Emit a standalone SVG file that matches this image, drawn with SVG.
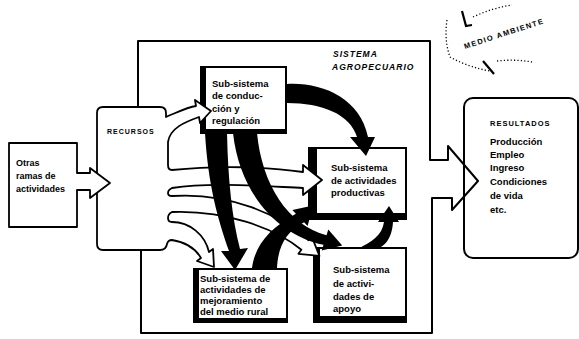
<svg xmlns="http://www.w3.org/2000/svg" width="579" height="339" viewBox="0 0 579 339">
<style>
.ln{fill:none;stroke:#000;stroke-width:2;stroke-linejoin:round}
.wf{fill:#fff;stroke:#000;stroke-width:1.8;stroke-linejoin:round}
.blk{fill:#000;stroke:none}
.t{font-family:"Liberation Sans",Arial,sans-serif;font-weight:bold;font-size:9.5px;fill:#000}
.s{font-size:9px}
.cap{font-size:7.5px;letter-spacing:1px}
.it{font-style:italic;font-size:8.5px;letter-spacing:1px}
.dot{fill:none;stroke:#000;stroke-width:1.3;stroke-dasharray:1.2 2.2}
</style>
<rect width="579" height="339" fill="#fff"/>

<g id="sistema">
<path class="ln" d="M138,107 L138,41 L430,41 L430,160 L448,160 L448,146 L478,181 L452,210 L452,198 L432,198 L432,333 L141,333 L141,250"/>
<text class="t it" x="333" y="57">SISTEMA</text>
<text class="t it" x="332" y="70">AGROPECUARIO</text>
</g>

<g id="medio">
<text class="t cap" x="465" y="49" transform="rotate(-18 465 49)" style="font-size:7.5px;letter-spacing:1.3px">MEDIO AMBIENTE</text>
<path class="dot" d="M447,20 Q444,40 450,57 Q470,68 495,72"/>
<path class="dot" d="M473,17 Q492,8 512,5"/>
<path class="dot" d="M497,61 Q515,59 532,62"/>
<path d="M462,11 L466,26 L472,25" fill="none" stroke="#000" stroke-width="2.2"/>
<path d="M483,61 L494,74" fill="none" stroke="#000" stroke-width="2.2"/>
</g>

<g id="resultados">
<rect class="ln" x="464" y="98" width="114" height="160" rx="9"/>
<text class="t cap" x="490" y="126">RESULTADOS</text>
<text class="t" x="490" y="145">Producción</text>
<text class="t" x="490" y="158">Empleo</text>
<text class="t" x="490" y="171">Ingreso</text>
<text class="t" x="490" y="185">Condiciones</text>
<text class="t" x="490" y="199">de vida</text>
<text class="t" x="490" y="213">etc.</text>
</g>

<g id="conduccion">
<rect class="blk" x="200" y="66" width="87" height="68"/>
<rect fill="#fff" x="206" y="68" width="79" height="61"/>
<text class="t" x="212" y="87">Sub-sistema</text>
<text class="t" x="212" y="99">de conduc-</text>
<text class="t" x="212" y="112">ción y</text>
<text class="t" x="212" y="124">regulación</text>
</g>

<g id="productivas">
<rect class="blk" x="308" y="147" width="99" height="73"/>
<rect fill="#fff" x="317" y="149" width="88" height="64"/>
<text class="t" x="331" y="171">Sub-sistema</text>
<text class="t" x="331" y="184">de actividades</text>
<text class="t" x="331" y="196">productivas</text>
</g>

<g id="mejoramiento">
<rect class="blk" x="193" y="268" width="95" height="55"/>
<rect fill="#fff" x="199" y="270" width="87" height="48"/>
<text class="t" x="200" y="282">Sub-sistema de</text>
<text class="t" x="200" y="293">actividades de</text>
<text class="t" x="200" y="304">mejoramiento</text>
<text class="t" x="200" y="315">del medio rural</text>
</g>

<g id="apoyo">
<rect class="blk" x="313" y="247" width="94" height="76"/>
<rect fill="#fff" x="320" y="249" width="85" height="67"/>
<text class="t" x="333" y="273">Sub-sistema</text>
<text class="t" x="333" y="287">de activi-</text>
<text class="t" x="333" y="300">dades de</text>
<text class="t" x="333" y="312">apoyo</text>
</g>

<g id="recursos">
<path class="wf" d="M103,107 L160,107 Q166,107 166,113 L166,117 C178,112 188,107 196,106 L195,100 L211,111 L200,123 L199,117 C185,122 170,128 168,142 L168,165 Q168,170 172,170 C220,165 270,167 303,172 L303,165 L322,180 L303,195 L303,188 C260,186 210,182 172,188 Q168,190 168,193 Q168,196 172,196 C230,192 280,215 308.6,240.2 L311.6,236.2 L319.4,255.8 L298.4,253.8 L301.4,249.8 C275,228 225,210 172,212 Q168,214 168,218 Q168,222 172,222 C190,222 205,235 209,252 L213,249 L214,267 L197,261 L201,258 C195,248 185,242 172,240 Q168,240 167,244 Q166,250 160,250 L103,250 Q97,250 97,244 L97,113 Q97,107 103,107 Z"/>
<text class="t cap" x="107" y="134" style="font-size:7px">RECURSOS</text>
</g>

<g id="otras">
<path class="wf" d="M77,173 L90,173 L90,168 L110,183 L90,198 L90,190 L77,190 L77,227 L9,227 L9,143 L77,143 Z"/>
<text class="t s" x="16" y="166">Otras</text>
<text class="t s" x="16" y="179">ramas de</text>
<text class="t s" x="16" y="192">actividades</text>
</g>

<g id="connectors">
<path class="blk" d="M287,84 C322,82 360,98 368,137 L375,137 L366,156 L350,137 L357,137 C350,114 322,103 287,103 Z"/>
<path class="blk" d="M205,133 L227,133 C228,180 232,218 240,249 L248,248 L235,270 L221,251 L229,251 C218,220 208,185 205,133 Z"/>
<path class="blk" d="M233,133 L257,133 C262,185 288,225 326.5,235.2 L328.3,229.5 L342.2,245.4 L321.7,250.5 L323.5,244.8 C280,236 240,196 233,133 Z"/>
<path class="blk" d="M252,268 C255,245 270,228 295.9,213.7 L292.4,210.1 L313,205.6 L307.6,225.9 L304.1,222.3 C285,232 278,248 277,268 Z"/>
<path class="blk" d="M358,249 C372,241 382,236 384,222 L378,222 L389,206 L399,222 L393,222 C392,240 383,248 375,249 Z"/>
</g>
</svg>
